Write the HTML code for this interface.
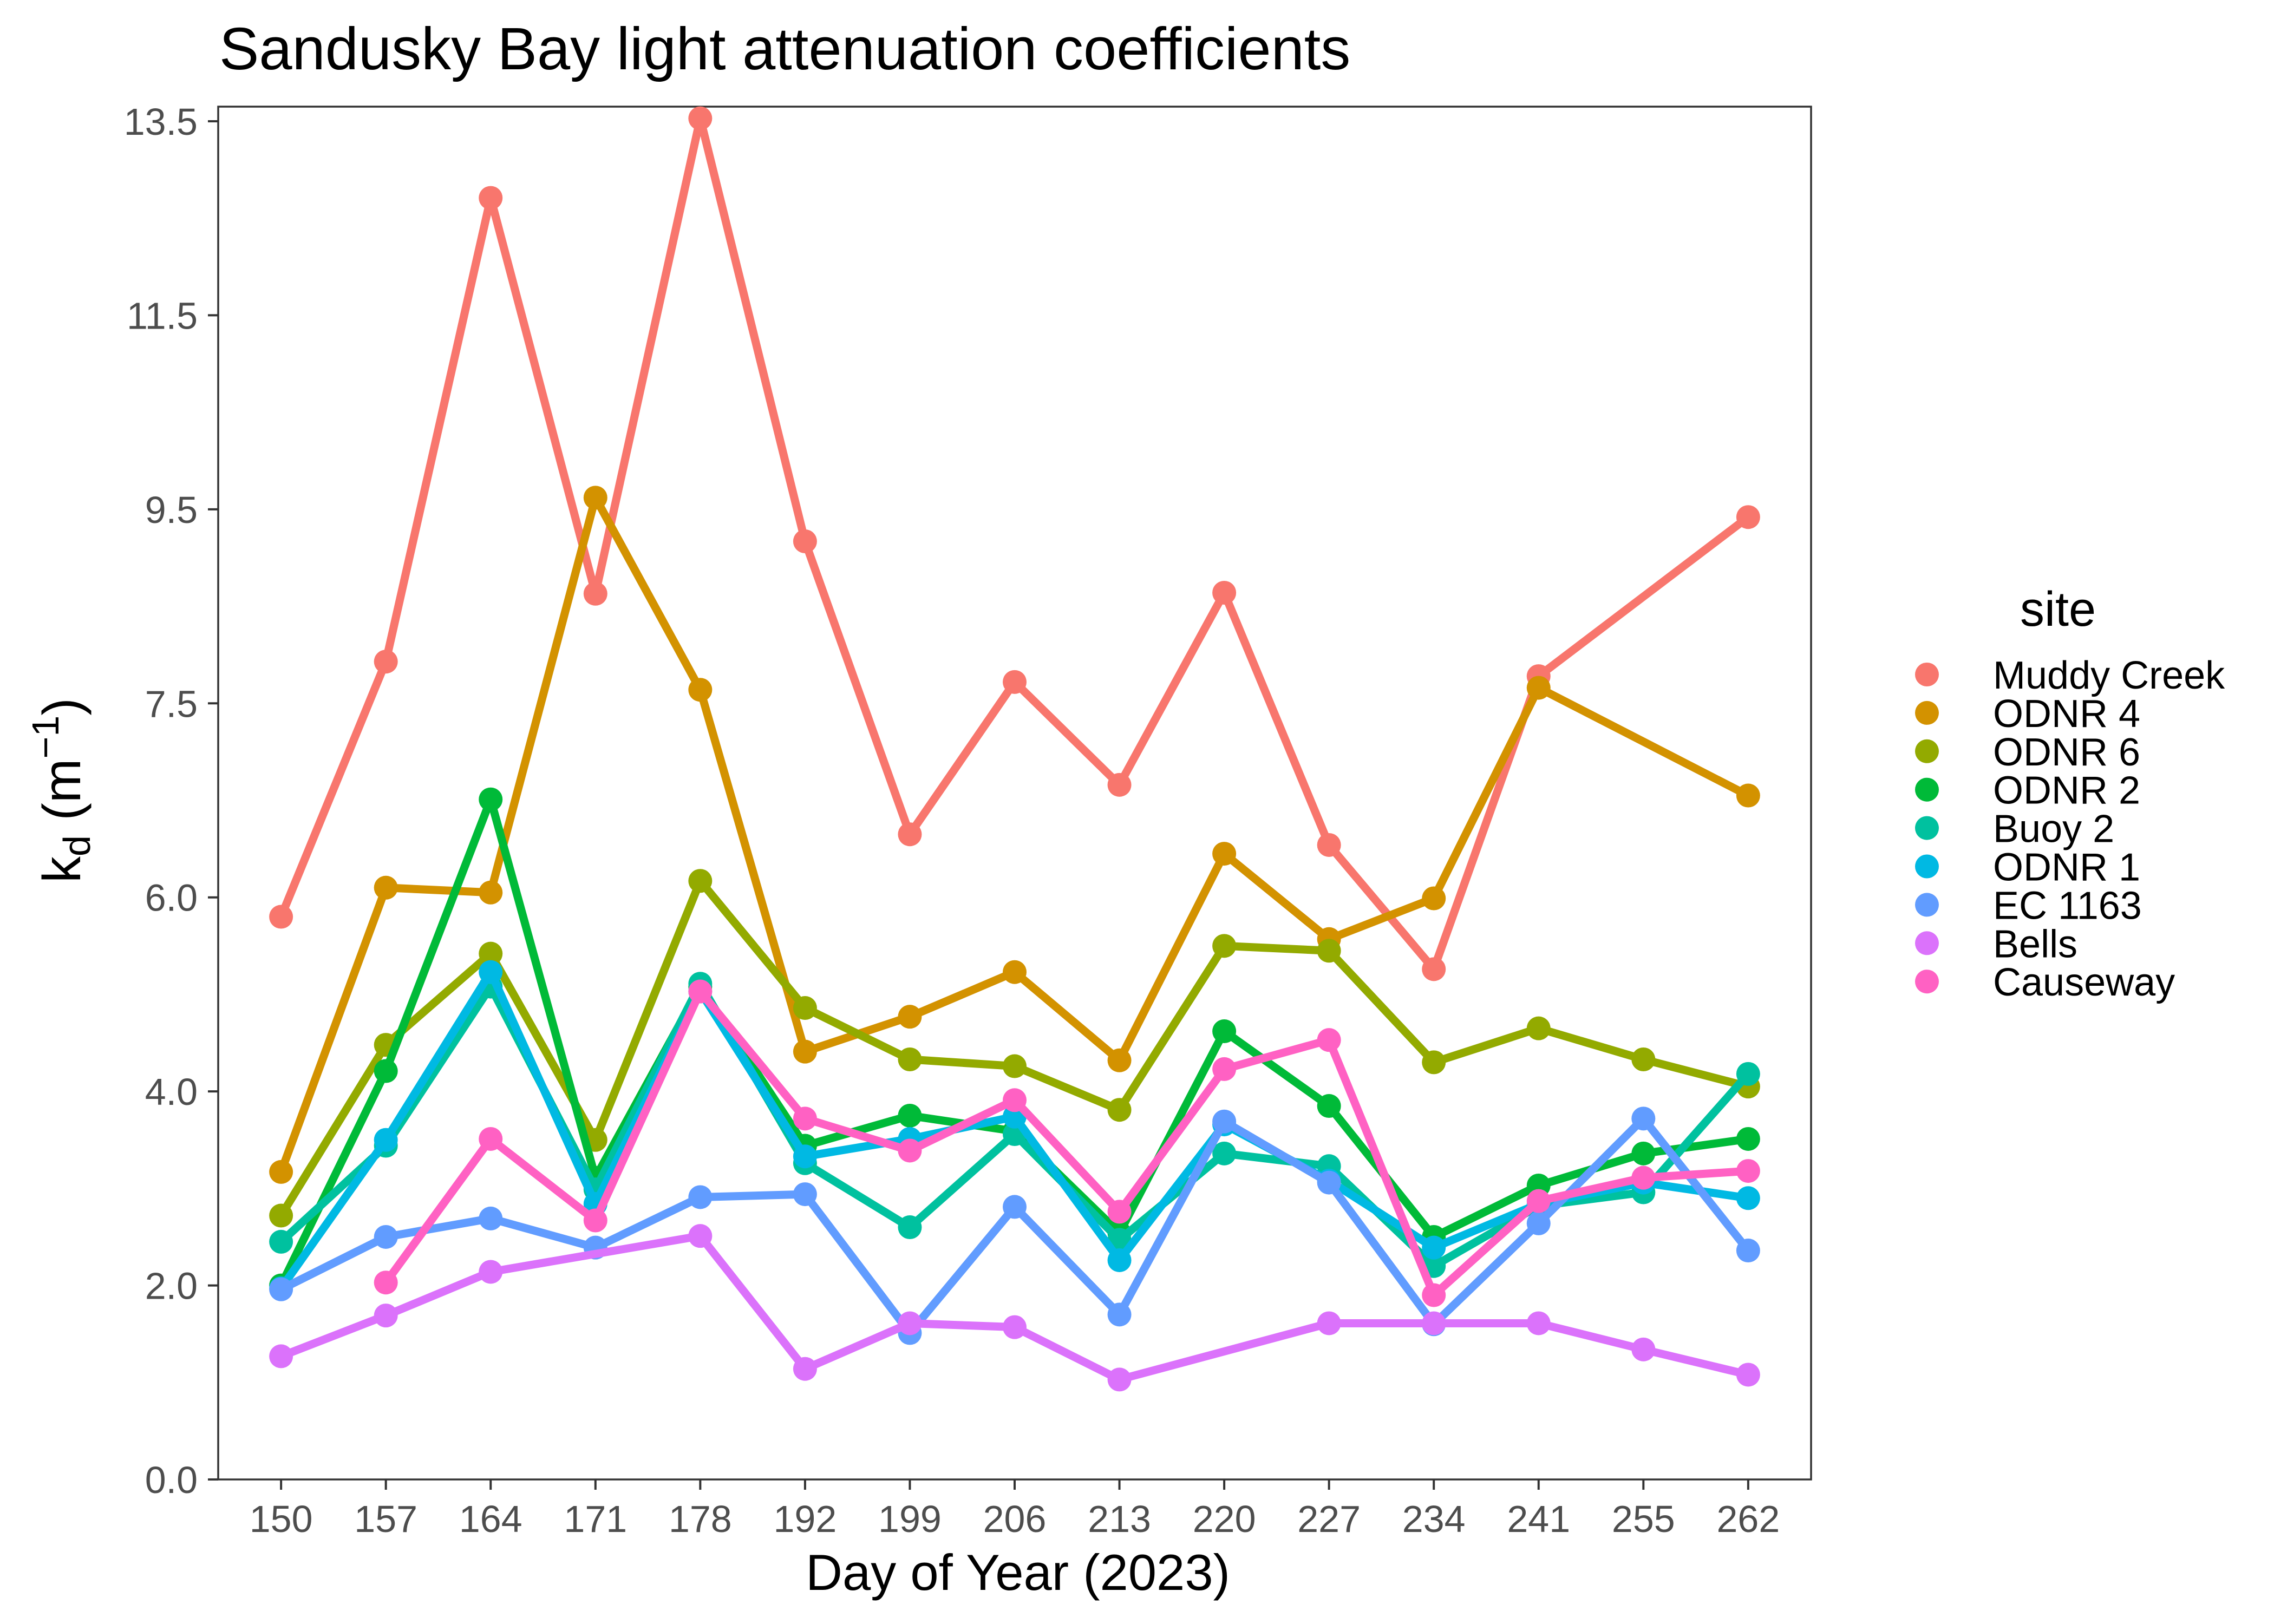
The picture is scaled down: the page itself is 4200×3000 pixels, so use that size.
<!DOCTYPE html>
<html><head><meta charset="utf-8"><style>
html,body{margin:0;padding:0;background:#fff;}
svg{display:block;font-family:"Liberation Sans",Arial,sans-serif;}
</style></head><body>
<svg id="chart" width="4200" height="3000" viewBox="0 0 4200 3000">
<text x="405" y="128" font-size="110" fill="#000">Sandusky Bay light attenuation coefficients</text>
<g id="plot"></g>
<text x="1880" y="2937" font-size="94" text-anchor="middle" fill="#000">Day of Year (2023)</text>
<text transform="translate(148,1460) rotate(-90)" font-size="98" text-anchor="middle" fill="#000">k<tspan font-size="70" dy="18">d</tspan><tspan dy="-18"> (m</tspan><tspan font-size="70" dy="-40">−1</tspan><tspan dy="40">)</tspan></text>
<text x="3801" y="1156" font-size="90" text-anchor="middle" fill="#000">site</text>
<g id="legend"></g>
</svg>
<script>
const categories = ['150','157','164','171','178','192','199','206','213','220','227','234','241','255','262'];
const yTickValues = [0,2,4,6,8,10,12,14];
const yTickLabels = ['0.0','2.0','4.0','6.0','7.5','9.5','11.5','13.5'];
const siteNames = ['Muddy Creek','ODNR 4','ODNR 6','ODNR 2','Buoy 2','ODNR 1','EC 1163','Bells','Causeway'];
const siteColors = ['#F8766D','#D39200','#93AA00','#00BA38','#00C19F','#00B9E3','#619CFF','#DB72FB','#FF61C3'];
const muddyCreek = [5.80,8.43,13.21,9.13,14.03,9.67,6.65,8.22,7.16,9.14,6.54,5.26,8.28,null,9.92];
const odnr4 = [3.17,6.10,6.05,10.12,8.14,4.41,4.77,5.23,4.32,6.45,5.57,5.99,8.16,null,7.05];
const odnr6 = [2.72,4.48,5.42,3.50,6.17,4.86,4.33,4.26,3.81,5.50,5.45,4.30,4.65,4.33,4.05];
const odnr2 = [2.00,4.21,7.01,3.11,5.08,3.44,3.75,3.59,2.54,4.62,3.85,2.50,3.03,3.36,3.51];
const buoy2 = [2.45,3.44,5.08,2.99,5.11,3.26,2.60,3.56,2.47,3.36,3.23,2.20,2.82,2.96,4.18];
const odnr1 = [1.97,3.50,5.23,2.84,5.03,3.33,3.51,3.74,2.26,3.66,3.08,2.39,2.84,3.06,2.90];
const ec1163 = [1.96,2.50,2.69,2.39,2.91,2.94,1.51,2.81,1.70,3.69,3.06,1.60,2.64,3.72,2.36];
const bells = [1.27,1.69,2.14,null,2.51,1.14,1.61,1.57,1.03,null,1.61,1.61,1.61,1.34,1.08];
const causeway = [null,2.03,3.51,2.67,5.03,3.72,3.39,3.91,2.76,4.23,4.53,1.90,2.87,3.11,3.18];
const seriesValues = [muddyCreek,odnr4,odnr6,odnr2,buoy2,odnr1,ec1163,bells,causeway];

const NS='http://www.w3.org/2000/svg';
const L=403,R=3345,T=197,B=2733;
const yMin=0,yMax=14,yTop=224;
function xScale(i){const step=(R-L)/(categories.length+0.2);return L+step*(i+0.6);}
function yScale(v){return B-(v-yMin)/(yMax-yMin)*(B-yTop);}
function mk(tag,attrs,parent){const e=document.createElementNS(NS,tag);for(const k in attrs)e.setAttribute(k,attrs[k]);parent.appendChild(e);return e;}
const plot=document.getElementById('plot');
const frame=mk('rect',{x:L,y:T,width:R-L,height:B-T,fill:'#fff',stroke:'#333',"stroke-width":3.5},plot);


yTickValues.forEach((v,i)=>{
  const y=yScale(v);
  const t=mk('line',{x1:L-19,x2:L,y1:y,y2:y,stroke:'#333',"stroke-width":4},plot);
  
  
  const tx=mk('text',{x:365,y:y+25,"font-size":70,"text-anchor":"end",fill:'#4d4d4d'},plot);
  tx.textContent=yTickLabels[i];
  
  
});
categories.forEach((c,i)=>{
  const x=xScale(i);
  const t=mk('line',{x1:x,x2:x,y1:B,y2:B+19,stroke:'#333',"stroke-width":4},plot);
  
  
  const tx=mk('text',{x:x,y:2830,"font-size":70,"text-anchor":"middle",fill:'#4d4d4d'},plot);
  tx.textContent=c;
  
  
});
seriesValues.forEach((vals,s)=>{
  const g=mk('g',{},plot);
  
  
  const pts=[];
  vals.forEach((v,i)=>{if(v!==null)pts.push([xScale(i),yScale(v)]);});
  const line=mk('polyline',{points:pts.map(p=>p.join(',')).join(' '),fill:'none',stroke:siteColors[s],"stroke-width":15,"stroke-linejoin":"round"},g);
  
  
  pts.forEach(p=>{
    const c=mk('circle',{cx:p[0],cy:p[1],r:22,fill:siteColors[s]},g);
    
    
  });
});
const legend=document.getElementById('legend');
siteNames.forEach((n,i)=>{
  const y=1246+i*70.9;
  const g=mk('g',{},legend);
  
  
  const c=mk('circle',{cx:3559,cy:y,r:22,fill:siteColors[i]},g);
  
  
  const t=mk('text',{x:3681,y:y+26,"font-size":72,fill:'#000'},g);
  t.textContent=n;
  
  
});
</script>
</body></html>
